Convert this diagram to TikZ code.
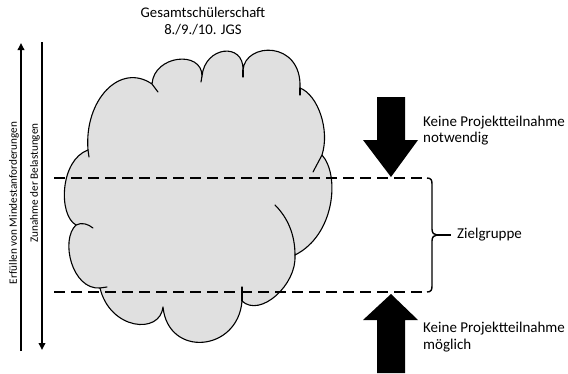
\documentclass[tikz,border=0pt]{standalone}
\usepackage{fontspec}
\setmainfont{Carlito}
\usetikzlibrary{arrows.meta}
\definecolor{cloudgray}{HTML}{E0E0E0}
\begin{document}
\begin{tikzpicture}[x=1pt,y=-1pt,
  lbl/.style={font=\fontsize{15}{16.5}\selectfont, inner sep=0pt, align=left},
  ctr/.style={font=\fontsize{14.7}{17.5}\selectfont, inner sep=0pt, align=center},
  side/.style={font=\fontsize{11.2}{13}\selectfont, inner sep=0pt, rotate=90},
  cloudline/.style={line width=1.1pt, line join=round, line cap=round},
  dashline/.style={line width=2pt, dash pattern=on 11pt off 6pt},
  bigarrow/.style={fill=black},
  thinarrow/.style={line width=1.8pt, -{Triangle[length=7pt,width=6.5pt]}},
  bracestyle/.style={line width=1.4pt, line join=round}]
\useasboundingbox (0,0) rectangle (568,373);

% cloud
\path[fill=cloudgray, draw=black, cloudline]
  (88,150) .. controls (84,100) and (120,62) .. (152,84)
  .. controls (154,55) and (202,50) .. (202,76)
  .. controls (205,46) and (244,42) .. (243,70)
  .. controls (245,42) and (302,40) .. (300,88)
  .. controls (318,95) and (330,130) .. (322,155)
  .. controls (340,175) and (335,235) .. (295,255)
  .. controls (297,285) and (260,318) .. (242,301)
  .. controls (238,352) and (168,358) .. (163,307)
  .. controls (160,335) and (110,330) .. (100,288)
  .. controls (72,290) and (60,240) .. (76,225)
  .. controls (58,215) and (60,160) .. (88,150)
  -- cycle;
\draw[cloudline] (88,150) -- (89,157);
\draw[cloudline] (152,84) -- (158,92);
\draw[cloudline] (202,76) -- (201,82);
\draw[cloudline] (243,70) -- (243,77);
\draw[cloudline] (300,88) -- (300,95);
\draw[cloudline] (322,155) -- (313,172);
\draw[cloudline] (275,205) .. controls (288,218) and (295,235) .. (295,255);
\draw[cloudline] (242,287) -- (242,301);
\draw[cloudline] (100,288) -- (107,287);
\draw[cloudline] (76,225) .. controls (82,222) and (88,224) .. (93,228);

% title
\node[ctr, anchor=north] (title) at (203,7) {Gesamtschülerschaft\\8./9./10. JGS};

% left arrows
\coordinate (a1b) at (21,351);
\coordinate (a1t) at (21,43);
\coordinate (a2t) at (42,42);
\coordinate (a2b) at (42,350);
\draw[thinarrow] (a1b) -- (a1t);
\draw[thinarrow] (a2t) -- (a2b);
\node[side] (erf) at (14,203) {Erfüllen von Mindestanforderungen};
\node[side] (zun) at (35,183) {Zunahme der Belastungen};

% dashed lines
\coordinate (d1l) at (54,178);
\coordinate (d1r) at (427,178);
\coordinate (d2l) at (54,292);
\coordinate (d2r) at (427,292);
\draw[dashline] (d1l) -- (d1r);
\draw[dashline] (d2l) -- (d2r);

% brace
\coordinate (tip) at (437,235);
\draw[bracestyle] (d1r) .. controls (431,178) and (432,180) .. (432,184) -- (432,229)
  .. controls (432,233) and (434,235) .. (tip)
  .. controls (434,235) and (432,237) .. (432,241) -- (432,286)
  .. controls (432,290) and (431,292) .. (d2r);
\node[lbl, anchor=west] (ziel) at (457,235) {Zielgruppe};
\draw[bracestyle, shorten >=6pt] (tip) -- (ziel.west);

% big arrows
\path[bigarrow] (377,97) -- (405,97) -- (405,140) -- (418,140) -- (391,177) -- (363,140) -- (377,140) -- cycle;
\path[bigarrow] (377,373) -- (405,373) -- (405,320) -- (418,320) -- (391,294) -- (363,320) -- (377,320) -- cycle;

\node[lbl, anchor=north west] (kn) at (423,115.5) {Keine Projektteilnahme\\notwendig};
\node[lbl, anchor=north west] (km) at (423,322) {Keine Projektteilnahme\\möglich};
\end{tikzpicture}
\end{document}
